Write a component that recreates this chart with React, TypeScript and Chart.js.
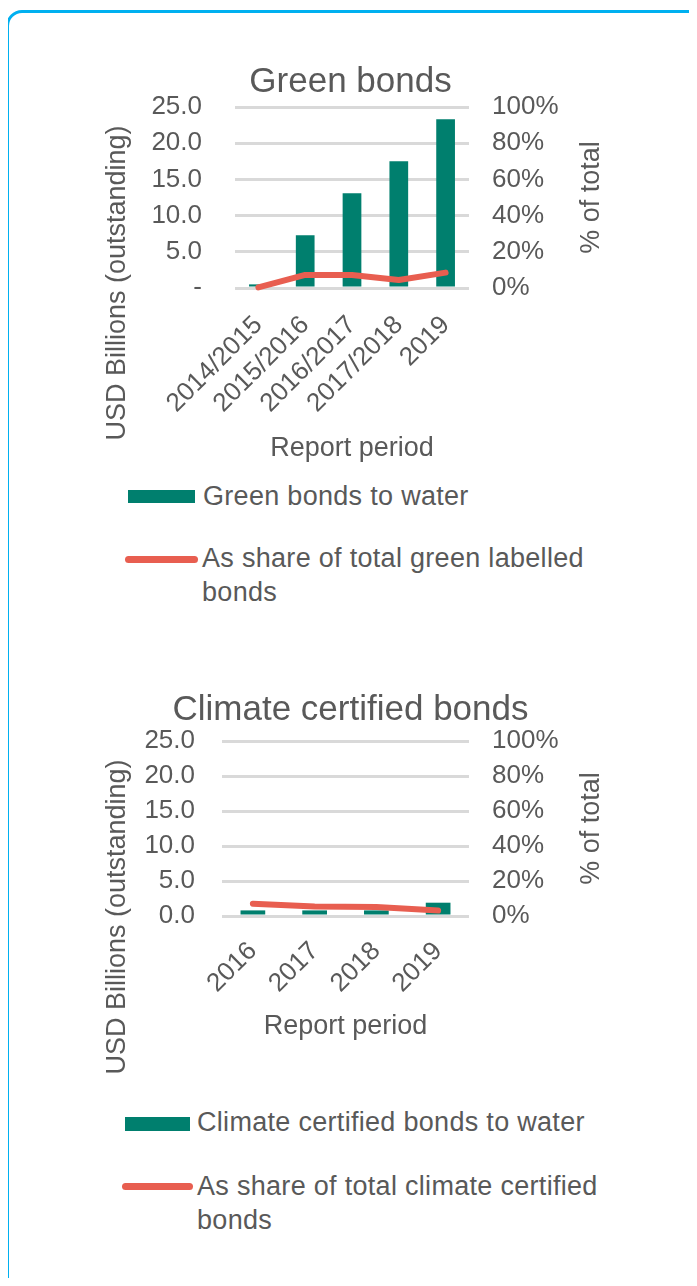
import React, { useEffect, useRef } from "react";
import { Chart, registerables } from "chart.js";

Chart.register(...registerables);

// ---------- data ----------
const GREEN_PERIODS = ["2014/2015", "2015/2016", "2016/2017", "2017/2018", "2019"];
const GREEN_WATER_BN = [0.5, 7.3, 13.1, 17.5, 23.3];
const GREEN_SHARE_PCT = [0.3, 7.2, 7.2, 4.4, 8.5];

const CLIMATE_PERIODS = ["2016", "2017", "2018", "2019"];
const CLIMATE_WATER_BN = [0.8, 0.8, 0.8, 1.9];
const CLIMATE_SHARE_PCT = [7.0, 5.4, 5.1, 3.1];

const LEFT_AXIS_MAX = 25;
const LEFT_AXIS_STEP = 5;
const RIGHT_AXIS_MAX = 100;
const RIGHT_AXIS_STEP = 20;

const GREEN_TITLE = "Green bonds";
const CLIMATE_TITLE = "Climate certified bonds";
const LEFT_TITLE = "USD Billions (outstanding)";
const RIGHT_TITLE = "% of total";
const X_TITLE = "Report period";
const GREEN_BAR_LABEL = "Green bonds to water";
const GREEN_LINE_LABEL = "As share of total green labelled bonds";
const CLIMATE_BAR_LABEL = "Climate certified bonds to water";
const CLIMATE_LINE_LABEL = "As share of total climate certified bonds";

// ---------- style ----------
const FAMILY = '"Liberation Sans", Arial, Helvetica, sans-serif';
const TEXT = "#595959";
const BAR = "#007F6E";
const LINE = "#E85E50";
const GRID = "#D9D9D9";

Chart.defaults.font.family = FAMILY;
Chart.defaults.color = TEXT;

const axisTexts = {
  id: "axisTexts",
  afterDraw(chart: any, _args: any, opts: any) {
    const { ctx, chartArea: a } = chart;
    ctx.save();
    ctx.fillStyle = TEXT;
    ctx.textAlign = "center";
    ctx.textBaseline = "middle";
    ctx.font = `35px ${FAMILY}`;
    ctx.fillText(opts.title, chart.width / 2 + opts.titleDx, a.top - opts.titleGap);
    ctx.font = `27px ${FAMILY}`;
    ctx.save();
    ctx.translate(a.left - opts.leftGap, a.bottom - opts.leftUp);
    ctx.rotate(-Math.PI / 2);
    ctx.fillText(opts.leftTitle, 0, 0);
    ctx.restore();
    ctx.save();
    ctx.translate(a.right + opts.rightGap, (a.top + a.bottom) / 2);
    ctx.rotate(-Math.PI / 2);
    ctx.fillText(opts.rightTitle, 0, 0);
    ctx.restore();
    ctx.restore();
  },
};

type BondChartProps = {
  top: number;
  height: number;
  labels: string[];
  bars: number[];
  shares: number[];
  barLabel: string;
  lineLabel: string;
  title: string;
  zeroLabel: string;
  pad: { left: number; right: number; top: number; bottom: number };
  leftWidth: number;
  rightWidth: number;
  xHeight: number;
  leftTickPad: number;
  xTickPad: number;
  texts: any;
};

function BondChart(p: BondChartProps) {
  const ref = useRef<HTMLCanvasElement | null>(null);
  useEffect(() => {
    if (!ref.current) return;
    const chart = new Chart(ref.current, {
      data: {
        labels: p.labels,
        datasets: [
          {
            type: "line",
            label: p.lineLabel,
            data: p.shares,
            yAxisID: "y1",
            borderColor: LINE,
            backgroundColor: LINE,
            borderWidth: 6,
            pointRadius: 0,
            borderCapStyle: "round",
            borderJoinStyle: "round",
            tension: 0,
            clip: false,
            order: 0,
          } as any,
          {
            type: "bar",
            label: p.barLabel,
            data: p.bars,
            yAxisID: "y",
            backgroundColor: BAR,
            barPercentage: 0.4,
            categoryPercentage: 1,
            order: 1,
          } as any,
        ],
      },
      options: {
        animation: false,
        responsive: false,
        maintainAspectRatio: false,
        layout: { padding: p.pad },
        plugins: {
          legend: { display: false },
          tooltip: { enabled: false },
          axisTexts: { ...p.texts, title: p.title, leftTitle: LEFT_TITLE, rightTitle: RIGHT_TITLE },
        } as any,
        scales: {
          x: {
            grid: { display: false, drawTicks: false },
            border: { display: false },
            ticks: {
              font: { size: 26 },
              color: TEXT,
              minRotation: 45,
              maxRotation: 45,
              autoSkip: false,
              padding: p.xTickPad,
            },
            title: {
              display: true,
              text: X_TITLE,
              font: { size: 27 },
              color: TEXT,
              padding: { top: 0, bottom: 4 },
            },
            afterFit: (s: any) => {
              s.height = p.xHeight;
            },
          },
          y: {
            position: "left",
            min: 0,
            max: LEFT_AXIS_MAX,
            grid: { color: GRID, lineWidth: 3, drawTicks: false },
            border: { display: false },
            ticks: {
              stepSize: LEFT_AXIS_STEP,
              font: { size: 26 },
              color: TEXT,
              padding: p.leftTickPad,
              callback: (v: any) => (Number(v) === 0 ? p.zeroLabel : Number(v).toFixed(1)),
            },
            afterFit: (s: any) => {
              s.width = p.leftWidth;
            },
          },
          y1: {
            position: "right",
            min: 0,
            max: RIGHT_AXIS_MAX,
            grid: { display: false, drawTicks: false },
            border: { display: false },
            ticks: {
              stepSize: RIGHT_AXIS_STEP,
              font: { size: 26 },
              color: TEXT,
              padding: 23,
              callback: (v: any) => `${v}%`,
            },
            afterFit: (s: any) => {
              s.width = p.rightWidth;
            },
          },
        },
      } as any,
      plugins: [axisTexts as any],
    });
    return () => chart.destroy();
  }, []);
  return (
    <canvas
      ref={ref}
      width={697}
      height={p.height}
      style={{ position: "absolute", left: 0, top: p.top, width: 697, height: p.height }}
    />
  );
}

const textStyle: React.CSSProperties = {
  position: "absolute",
  fontFamily: FAMILY,
  fontSize: 27,
  lineHeight: "34px",
  letterSpacing: "0.3px",
  color: TEXT,
  whiteSpace: "normal",
};

function Legend(props: {
  barText: string;
  lineText: string;
  rect: { left: number; top: number; w: number; h: number };
  text1: { left: number; top: number };
  line: { left: number; top: number; w: number };
  text2: { left: number; top: number };
}) {
  const { rect, text1, line, text2 } = props;
  return (
    <>
      <div style={{ position: "absolute", left: rect.left, top: rect.top, width: rect.w, height: rect.h, background: BAR }} />
      <div style={{ ...textStyle, left: text1.left, top: text1.top, whiteSpace: "nowrap" }}>{props.barText}</div>
      <div style={{ position: "absolute", left: line.left, top: line.top, width: line.w, height: 7, borderRadius: 4, background: LINE }} />
      <div style={{ ...textStyle, left: text2.left, top: text2.top, width: 430 }}>{props.lineText}</div>
    </>
  );
}

export default function App() {
  useEffect(() => {
    document.body.style.overflow = "hidden";
  }, []);
  return (
    <div style={{ position: "relative", width: 697, height: 1286, margin: -8, overflow: "hidden", background: "#fff" }}>
      <div
        style={{
          position: "absolute",
          left: 6,
          top: 10,
          width: 760,
          height: 1400,
          border: "3px solid #00B0F0",
          borderRadius: 16,
          boxSizing: "border-box",
        }}
      />
      <BondChart
        top={40}
        height={430}
        labels={GREEN_PERIODS}
        bars={GREEN_WATER_BN}
        shares={GREEN_SHARE_PCT}
        barLabel={GREEN_BAR_LABEL}
        lineLabel={GREEN_LINE_LABEL}
        title={GREEN_TITLE}
        zeroLabel="-"
        pad={{ left: 100, right: 100, top: 67, bottom: 1 }}
        leftWidth={135}
        rightWidth={128}
        xHeight={181}
        leftTickPad={33}
        xTickPad={22}
        texts={{ titleDx: 2, titleGap: 25, leftGap: 117, leftUp: 5, rightGap: 123 }}
      />
      <Legend
        barText={GREEN_BAR_LABEL}
        lineText={GREEN_LINE_LABEL}
        rect={{ left: 128, top: 490, w: 67, h: 13 }}
        text1={{ left: 203, top: 479 }}
        line={{ left: 125, top: 556, w: 73 }}
        text2={{ left: 202, top: 541 }}
      />
      <BondChart
        top={665}
        height={440}
        labels={CLIMATE_PERIODS}
        bars={CLIMATE_WATER_BN}
        shares={CLIMATE_SHARE_PCT}
        barLabel={CLIMATE_BAR_LABEL}
        lineLabel={CLIMATE_LINE_LABEL}
        title={CLIMATE_TITLE}
        zeroLabel="0.0"
        pad={{ left: 100, right: 100, top: 76, bottom: 58 }}
        leftWidth={122}
        rightWidth={128}
        xHeight={131}
        leftTickPad={27}
        xTickPad={20}
        texts={{ titleDx: 2, titleGap: 31, leftGap: 104, leftUp: -1, rightGap: 123 }}
      />
      <Legend
        barText={CLIMATE_BAR_LABEL}
        lineText={CLIMATE_LINE_LABEL}
        rect={{ left: 125, top: 1117, w: 65, h: 14 }}
        text1={{ left: 197, top: 1105 }}
        line={{ left: 122, top: 1183, w: 71 }}
        text2={{ left: 197, top: 1169 }}
      />
    </div>
  );
}
